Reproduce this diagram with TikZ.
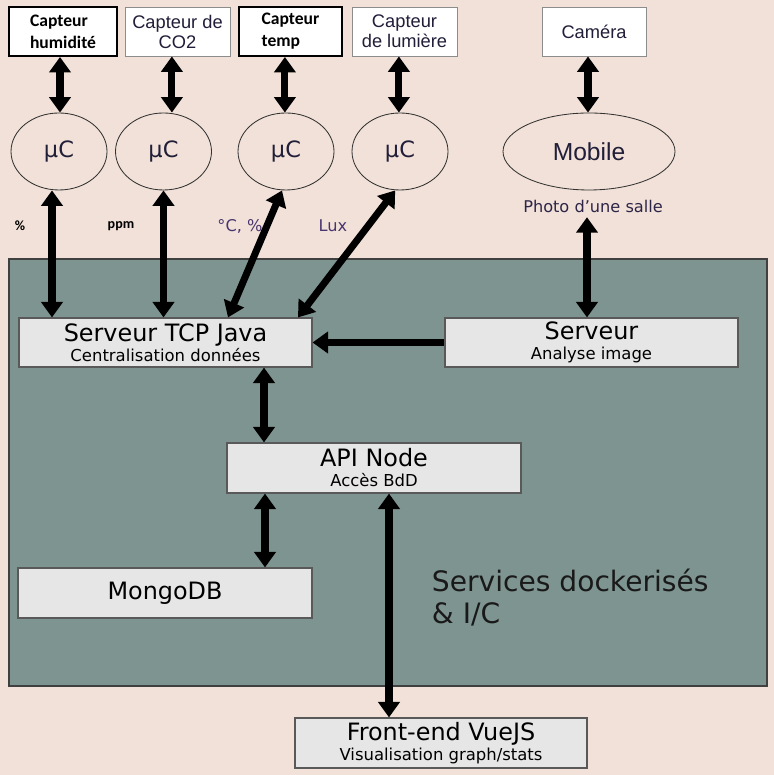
\documentclass[tikz,border=0pt]{standalone}
\usepackage{fontspec}
\setmainfont{DejaVu Sans}
\newfontfamily\lsans{Liberation Sans}
\newfontfamily\cbold{Carlito}
\usetikzlibrary{arrows.meta, shapes.geometric, calc}
\definecolor{bgpink}{RGB}{242,225,216}
\definecolor{dockgray}{RGB}{126,148,144}
\definecolor{boxgray}{RGB}{230,230,230}
\definecolor{labpurple}{RGB}{72,52,110}
\definecolor{txtnavy}{RGB}{32,30,56}
\newcommand{\linkV}[3]
{
	\draw[dbl] ([xshift=#1]#2.south) -- ([xshift=#1]#2.south |- #3.north)
}
\newcommand{\subtxt}{\fontsize{11.7}{14}\selectfont}

\begin{document}
\begin{tikzpicture}[
			sensor/.style={shape=rectangle,
				draw=black!45,
				line width=0.6pt,
				fill=white,
				minimum height=1.225cm,
				inner sep=1pt,
				align=center,
				text=txtnavy,
			font=\lsans\fontsize{13}{14.2}\selectfont},
			sensorb/.style={sensor,
				draw=black,
				line width=1.4pt,
				align=left,
				text=black,
			font=\cbold\bfseries\fontsize{12.5}{15.5}\selectfont},
			mcu/.style={shape=ellipse,
				draw=black!80,
				line width=0.6pt,
				minimum width=2.4cm,
				minimum height=1.925cm,
				inner sep=0,
				text=txtnavy,
			font=\fontsize{16}{18}\selectfont},
			srv/.style={shape=rectangle,
				draw=black!65,
				line width=0.8pt,
				fill=boxgray,
				minimum width=7.325cm,
				minimum height=1.225cm,
				inner sep=0,
				align=center,
			font=\fontsize{17}{20}\selectfont},
			meas/.style={text=labpurple, font=\fontsize{11.5}{13}\selectfont},
			measb/.style={font=\cbold\bfseries\fontsize{10}{12}\selectfont},
			dbl/.style={line width=5pt, {Triangle[width=15pt, length=11pt]}-{Triangle[width=15pt, length=11pt]}},
			sgl/.style={line width=5pt, -{Triangle[width=15pt, length=11pt]}}]
			
			\useasboundingbox[fill=bgpink] (0, 0) rectangle (19.35, 19.375);
			% zone des services
			\draw[draw=black!75, line width=1pt, fill=dockgray] (0.225, 2.225) rectangle (19.175, 12.9);
			
			\node[sensorb, minimum width=2.7cm] at (1.575, 18.5875) (humid){Capteur\\humidité};
			\node[sensor, minimum width=2.625cm] at (4.4375, 18.5875) (co2){Capteur de\\CO2};
			\node[sensorb, minimum width=2.575cm] at (7.2625, 18.5875) (temp){Capteur\\temp};
			\node[sensor, minimum width=2.625cm] at (10.1125, 18.5875) (lum){Capteur\\de lumière};
			\node[sensor, minimum width=2.6cm] at (14.85, 18.5875) (cam){Caméra};
			
			\node[mcu] at (1.475, 15.5875) (mu1){µC};
			\node[mcu] at (4.0875, 15.5875) (mu2){µC};
			\node[mcu] at (7.15, 15.5875) (mu3){µC};
			\node[mcu] at (10.0, 15.5875) (mu4){µC};
			\node[mcu, minimum width=4.3cm, font=\lsans\fontsize{17.5}{20}\selectfont] at (14.725, 15.5875) (mobile){Mobile};
			
			\node[measb] at (0.5, 13.725) (pct){\%};
			\node[measb] at (3.025, 13.725) (ppm){ppm};
			\node[meas] at (6.0, 13.725) (degc){°C, \%};
			\node[meas] at (8.325, 13.725) (lux){Lux};
			\node[meas, text=txtnavy!70!labpurple] at (14.825, 14.225) (photo){Photo d'une salle};
			
			\node[srv] at (4.1375, 10.8125) (tcp){Serveur TCP Java\\[-5.8pt]{\subtxt Centralisation données}};
			\node[srv] at (14.7875, 10.8125) (serv){Serveur\\[-5.8pt]{\subtxt Analyse image}};
			\node[srv, minimum width=7.35cm, minimum height=1.25cm] at (9.35, 7.675) (api){API Node\\[-5.8pt]{\subtxt Accès BdD}};
			\node[srv, minimum width=7.35cm, minimum height=1.25cm] at (4.125, 4.55) (mongo){MongoDB};
			\node[srv, minimum width=7.3cm, minimum height=1.25cm] at (11.025, 0.8) (front){Front-end VueJS\\[-5.8pt]{\subtxt Visualisation graph/stats}};
			
			\node[anchor=west, align=left, text=black!90, font=\fontsize{20}{22.8}\selectfont] at (10.675, 4.425) (dock){Services dockerisés\\\& I/C};
			
			\linkV{-0.075cm}{humid}{mu1};
			\linkV{-0.14cm}{co2}{mu2};
			\linkV{-0.14cm}{temp}{mu3};
			\linkV{-0.14cm}{lum}{mu4};
			\linkV{-0.15cm}{cam}{mobile};
			
			\linkV{-0.175cm}{mu1}{tcp};
			\linkV{0cm}{mu2}{tcp};
			\draw[dbl] ([xshift=-0.1cm]mu3.south) -- ([xshift=1.5625cm]tcp.north);
			\draw[dbl] ([xshift=-0.12cm]mu4.south) -- ([xshift=3.3125cm]tcp.north);
			\linkV{-0.15cm}{photo}{serv};
			\draw[sgl] (serv.west) -- (tcp.east);
			
			\linkV{2.4625cm}{tcp}{api};
			\linkV{-2.725cm}{api}{mongo};
			\linkV{0.375cm}{api}{front};
		\end{tikzpicture}
\end{document}
